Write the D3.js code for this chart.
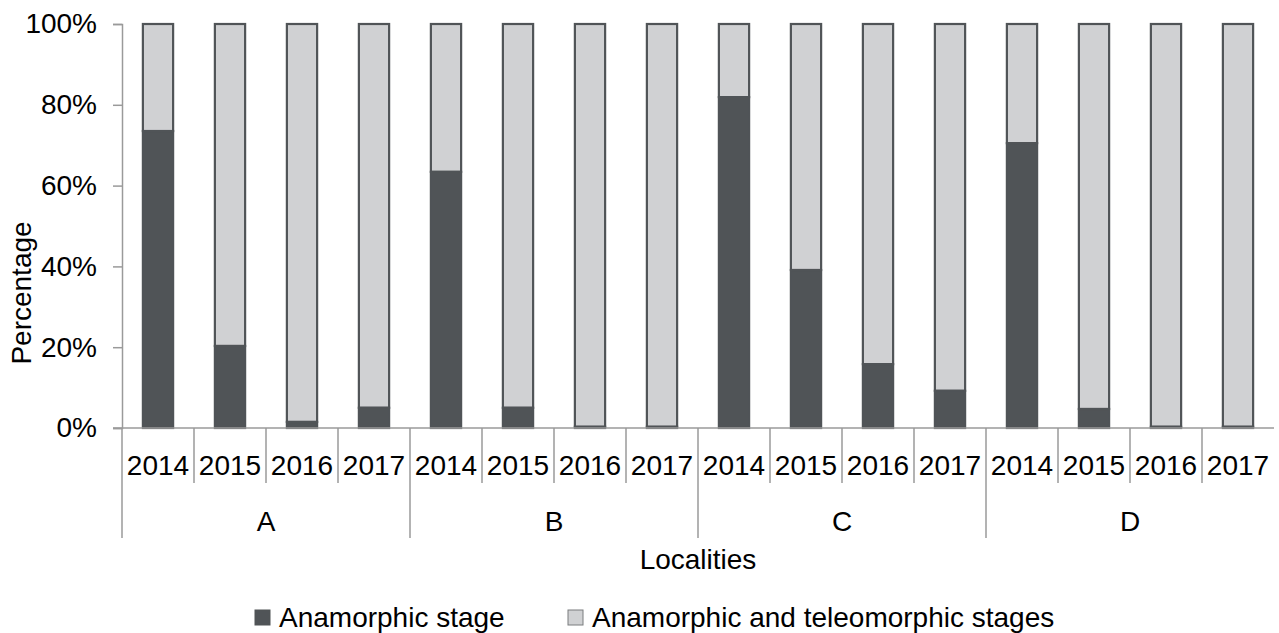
<!DOCTYPE html>
<html>
<head>
<meta charset="utf-8">
<script src="https://cdn.jsdelivr.net/npm/d3@7"></script>
<style>
  body { margin: 0; background: #fff; }
  text { font-family: "Liberation Sans", Arial, sans-serif; fill: #000; }
</style>
</head>
<body>
<div id="chart"></div>
<script>
const localities = ["A", "B", "C", "D"];
const years = ["2014", "2015", "2016", "2017"];
// values in order A2014..A2017, B2014.., C.., D..
const anamorphic = [73.5, 20.3, 1.5, 5.0, 63.4, 5.0, 0.3, 0.3, 81.9, 39.1, 15.8, 9.2, 70.5, 4.7, 0.3, 0.3];
const anaTeleo = [26.5, 79.7, 98.5, 95.0, 36.6, 95.0, 99.7, 99.7, 18.1, 60.9, 84.2, 90.8, 29.5, 95.3, 99.7, 99.7];
const yTicks = [0, 20, 40, 60, 80, 100];
const seriesNames = ["Anamorphic stage", "Anamorphic and teleomorphic stages"];

const W = 1279;
const H = 633;
const M = { top: 24, right: 5, bottom: 205, left: 122 };
const DARK = "#505457";
const LIGHT = "#d0d1d3";
const AXIS = "#9a9a9a";
const FS = 28;

const rows = [];
localities.forEach((loc, i) => {
  years.forEach((yr, j) => {
    const k = i * years.length + j;
    rows.push({ key: loc + yr, loc, yr, a: anamorphic[k], b: anaTeleo[k] });
  });
});

const svg = d3.select("#chart").append("svg").attr("width", W).attr("height", H);

const x = d3.scaleBand()
  .domain(rows.map(d => d.key))
  .range([M.left, W - M.right])
  .padding(0);

const xLoc = d3.scaleBand()
  .domain(localities)
  .range([M.left, W - M.right])
  .padding(0);

const y = d3.scaleLinear()
  .domain([0, 100])
  .range([H - M.bottom, M.top]);

const barW = x.bandwidth() * 0.42;

// Y axis
svg.append("g")
  .attr("transform", `translate(${M.left},0)`)
  .call(d3.axisLeft(y).tickValues(yTicks).tickFormat(d => d + "%").tickSize(9).tickPadding(16))
  .call(g => g.selectAll("path, line").attr("stroke", AXIS).attr("stroke-width", 1.5))
  .call(g => g.selectAll("text").attr("font-size", FS).attr("fill", "#000")
    .attr("font-family", "Liberation Sans, Arial, sans-serif"));

// Y label
svg.append("text")
  .attr("transform", "rotate(-90)")
  .attr("x", -293)
  .attr("y", 31)
  .attr("text-anchor", "middle")
  .attr("font-size", FS)
  .text("Percentage");

// bars
const bars = svg.append("g");
bars.selectAll("rect.b")
  .data(rows)
  .join("rect")
  .attr("class", "b")
  .attr("x", d => x(d.key) + (x.bandwidth() - barW) / 2)
  .attr("y", d => y(d.a + d.b))
  .attr("width", barW)
  .attr("height", d => y(d.a) - y(d.a + d.b))
  .attr("fill", LIGHT)
  .attr("stroke", DARK)
  .attr("stroke-width", 2.2);

bars.selectAll("rect.a")
  .data(rows)
  .join("rect")
  .attr("class", "a")
  .attr("x", d => x(d.key) + (x.bandwidth() - barW) / 2)
  .attr("y", d => y(d.a))
  .attr("width", barW)
  .attr("height", d => y(0) - y(d.a))
  .attr("fill", DARK)
  .attr("stroke", DARK)
  .attr("stroke-width", 2.2);

// X axis (two levels)
const base = y(0);
const xa = svg.append("g");
xa.append("line")
  .attr("x1", M.left - 9).attr("x2", W - M.right)
  .attr("y1", base).attr("y2", base)
  .attr("stroke", AXIS).attr("stroke-width", 1.5);

rows.forEach((d, i) => {
  const edge = x(d.key);
  const groupEdge = i % years.length === 0;
  xa.append("line")
    .attr("x1", edge).attr("x2", edge)
    .attr("y1", base).attr("y2", groupEdge ? 538 : 483)
    .attr("stroke", AXIS).attr("stroke-width", 1.5);
  xa.append("text")
    .attr("x", edge + x.bandwidth() / 2)
    .attr("y", 475)
    .attr("text-anchor", "middle")
    .attr("font-size", FS)
    .text(d.yr);
});

localities.forEach(loc => {
  xa.append("text")
    .attr("x", xLoc(loc) + xLoc.bandwidth() / 2)
    .attr("y", 531)
    .attr("text-anchor", "middle")
    .attr("font-size", FS)
    .text(loc);
});

svg.append("text")
  .attr("x", (M.left + W - M.right) / 2)
  .attr("y", 569)
  .attr("text-anchor", "middle")
  .attr("font-size", FS)
  .text("Localities");

// Legend
const legX = [255, 568];
const legFill = [DARK, LIGHT];
seriesNames.forEach((name, i) => {
  svg.append("rect")
    .attr("x", legX[i]).attr("y", 610)
    .attr("width", 15).attr("height", 15)
    .attr("fill", legFill[i])
    .attr("stroke", i === 0 ? DARK : "#7a7c7e")
    .attr("stroke-width", 1);
  svg.append("text")
    .attr("x", legX[i] + 24)
    .attr("y", 627)
    .attr("font-size", FS)
    .text(name);
});
</script>
</body>
</html>
